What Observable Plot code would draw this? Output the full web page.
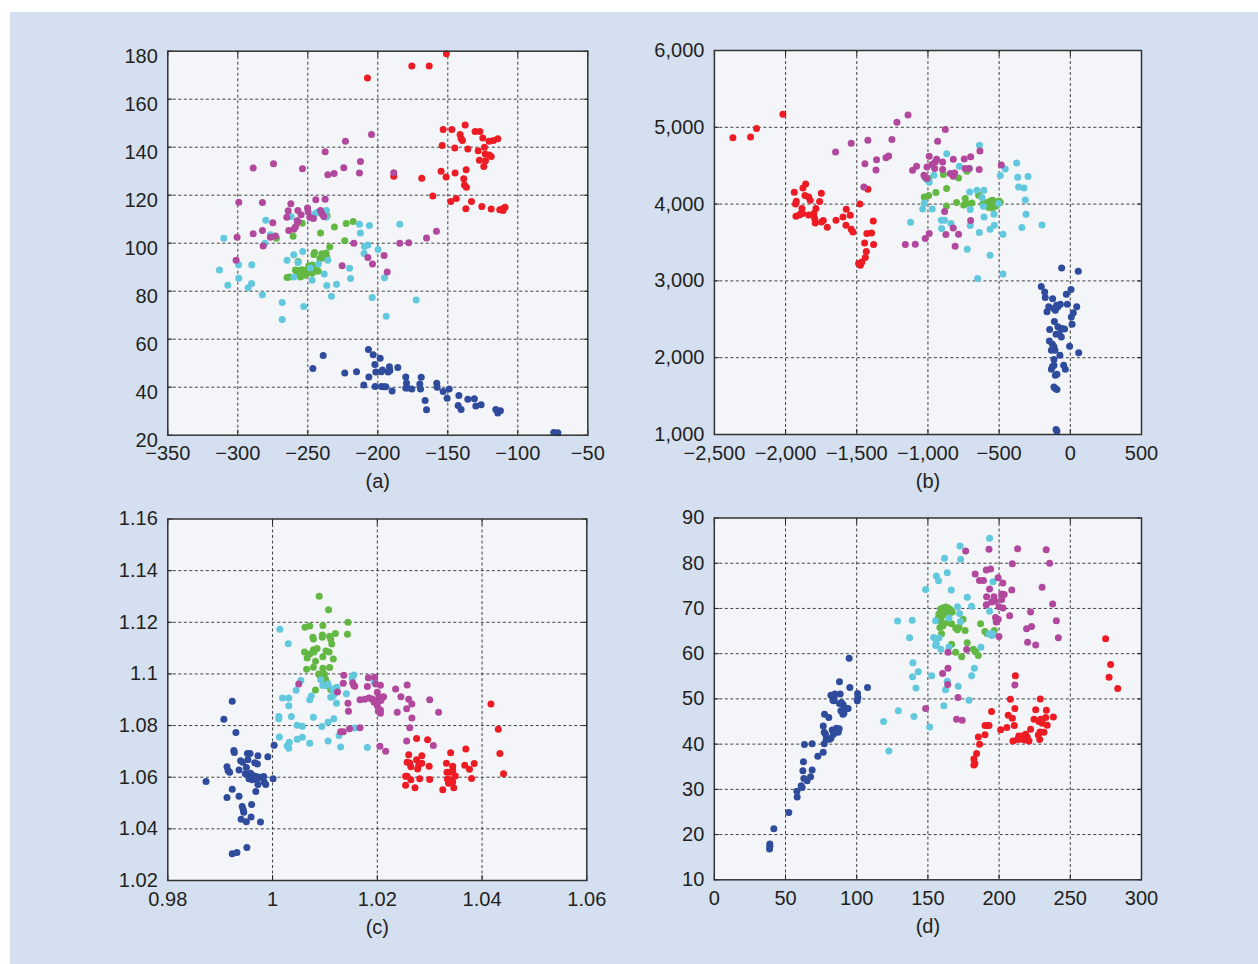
<!DOCTYPE html>
<html><head><meta charset="utf-8">
<script src="https://cdn.jsdelivr.net/npm/d3@7"></script>
<script src="https://cdn.jsdelivr.net/npm/@observablehq/plot@0.6"></script>
<style>
html,body{margin:0;padding:0;background:#fff;}
#bg{position:absolute;left:10px;top:12px;width:1248px;height:952px;background:#d4e0f0;}
.panel{position:absolute;}
</style></head><body>
<div id="bg"></div>
<div id="pa" class="panel"></div>
<div id="pb" class="panel"></div>
<div id="pc" class="panel"></div>
<div id="pd" class="panel"></div>
<script>
// ---------- tick labels ----------
const aXTicks = [-350,-300,-250,-200,-150,-100,-50];
const aYTicks = [20,40,60,80,100,120,140,160,180];
const bXTicks = [-2500,-2000,-1500,-1000,-500,0,500];
const bYTicks = [1000,2000,3000,4000,5000,6000];
const cXTicks = [0.98,1,1.02,1.04,1.06];
const cYTicks = [1.02,1.04,1.06,1.08,1.1,1.12,1.14,1.16];
const dXTicks = [0,50,100,150,200,250,300];
const dYTicks = [10,20,30,40,50,60,70,80,90];
const captions = ["(a)","(b)","(c)","(d)"];

// ---------- panel (a) ----------
const aRed = [[-151,178.9],[-175.7,173.8],[-163.3,173.8],[-207.4,168.8],
[-153.3,147.4],[-147.1,147.4],[-137.6,149.2],[-141.2,145.3],[-140.5,143.6],[-139.5,142.8],
[-130.5,146.5],[-127.1,146.5],[-125,143.8],[-120.5,142.5],[-117.4,142.8],[-114.3,143.5],
[-154,140.7],[-145,139.7],[-135.7,139.3],[-128.3,138.5],[-123.8,140],
[-123.3,137.2],[-120.5,136.7],[-119,136.1],[-127.4,134.6],[-123.1,134.4],[-124.3,132],
[-188.6,127.9],[-168.6,127.1],[-154.8,130],[-151.2,127.6],[-144.8,129.2],[-136.9,130.6],[-138.6,126.9],[-138.1,124.3],[-136.7,123.3],
[-160.7,119.7],[-144,118.6],[-147.9,117.4],[-133.1,117.4],[-137.1,114.4],[-125.7,115.3],[-119,114.2],[-112.9,113.9],[-111,114.2],[-109.1,115],[-110.5,113.6]];
const aMagenta = [[-204.5,145.3],[-223.1,142.5],[-237.6,138.1],[-289,131.3],[-274.5,133.1],[-253.8,131],[-224.3,131.4],[-212.4,134],[-235.7,128.5],[-231.2,129],[-213.1,129.2],[-188.6,129.4],
[-299.3,117.1],[-282.4,117],[-262.1,116.4],[-244.3,118.1],[-237.6,118.3],[-264,113.5],[-257.1,113.6],[-250.2,114.7],[-249.8,113.1],[-265,110.8],[-254.8,111.9],[-248.6,110.8],[-246,110.3],[-240.9,113.6],[-239.8,112.2],[-238.6,111.1],[-275,108.5],[-257.6,109.4],[-257,108.8],[-263.6,105.3],[-260,105.8],[-258.8,106.9],[-289,103.9],[-282.4,105.3],[-300.5,102.5],[-276.7,102.5],[-273.1,103],[-165.2,102.2],[-158.1,105],
[-281.9,98.8],[-217.1,100],[-184.3,100],[-177.9,100.2],[-301.2,92.9],[-207.1,94],[-203.8,91.3],[-195.5,94.9],[-225.5,90.6],[-193.3,88]];
const aCyan = [[-236.7,113.6],[-243.3,112.9],[-245,112.2],[-236.9,110.8],[-261.9,111.1],[-280,109.6],[-213.1,107.9],[-206,107.4],[-212.4,104.3],[-184.3,107.9],[-310,102.1],[-276.7,103.5],[-280.7,100],[-209.5,98.6],[-207.1,99.2],[-209.8,95.7],[-199.8,97.4],[-313.1,88.8],[-307.1,82.5],[-299.5,91],[-299.3,85.4],[-290,91],[-290.2,83.2],[-292.6,81.4],[-282.4,78.5],[-264.8,92.9],[-260,95.2],[-253.6,96.5],[-256.9,92],[-248.1,89.7],[-260,85.9],[-246.9,84.6],[-242.4,91.3],[-235.7,92.9],[-238.3,87.2],[-236.4,82.4],[-229.5,82.9],[-233.1,77.9],[-220.2,89.6],[-219.5,85.3],[-204,77.4],[-195.2,85.6],[-194,69.6],[-172.6,76.3],[-268.3,75.3],[-252.9,73.6],[-268.3,68.2]];
const aGreen = [[-254,108.3],[-236.2,111.3],[-240.9,104.3],[-260.5,102.9],[-231,106.7],[-222.6,108.2],[-217.6,109],[-272.4,102.1],[-223.6,101],[-234.3,98.5],
[-245.2,96.1],[-245.7,95.3],[-240,95.6],[-236.9,95.9],[-241.4,93.6],[-239,93.8],[-236.4,94.2],[-256.9,92.4],
[-258.8,88.8],[-256.4,88.6],[-254,88.9],[-250.5,88.9],[-249.3,90.6],[-246.9,90.9],[-244.5,89.3],[-242.6,88.4],[-264.8,85.7],[-255.2,85.9],[-251.7,86.6],[-249.3,87.9],[-246.9,87.5],[-243.3,88.4],[-252.9,87.5],[-257.6,87.2],[-262.9,85.9]];
const aBlue = [[-206.7,55.7],[-203.3,53.5],[-198.3,52.1],[-239,53.2],[-246.4,47.8],[-223.6,45.9],[-215.2,46.4],[-202.1,49.5],[-201.4,46.3],[-197.6,46.4],[-196.7,47.2],[-192.6,46.3],[-191.7,48.5],[-191.4,47],[-185.7,48.2],[-206.4,44.2],[-210,40.9],[-201.9,40.3],[-197.4,40.3],[-195.7,40.2],[-194.3,40.2],[-189.8,38.4],[-180,44.3],[-179.5,41.7],[-179,39.7],[-180,39.7],[-175.7,39.3],[-170,41.3],[-169,44.1],[-169.5,39.3],[-166.2,34.5],[-165.2,30.6],[-157.9,41.6],[-157.6,40],[-153.3,38.2],[-150.5,35.4],[-149,39.2],[-142.1,36.5],[-142.6,32.4],[-140.5,30.7],[-135.7,35],[-131,35.2],[-130,32.2],[-126.2,32.7],[-115.7,30.7],[-114.3,29.2],[-112.4,30.2],[-74.3,21.1],[-71.4,21]];

// ---------- panel (b) ----------
const bRed = [[-2370,4865],[-2246,4874],[-2204,4983],[-2019,5169],
[-1859,4263],[-1878,4210],[-1939,4154],[-1864,4111],[-1838,4093],[-1827,4050],[-1925,4037],[-1930,4002],[-1749,4141],[-1761,4033],[-1885,3942],[-1892,3876],[-1927,3842],[-1904,3859],[-1881,3876],[-1838,3859],[-1801,3876],[-1796,3811],[-1792,3755],[-1787,3942],[-1749,3768],[-1735,3785],[-1707,3699],[-1646,3790],[-1597,3833],[-1574,3933],[-1546,3855],[-1576,3725],[-1539,3673],[-1527,3638],[-1478,4002],[-1422,4193],[-1384,3781],[-1429,3616],[-1396,3625],[-1445,3495],[-1382,3473],[-1433,3382],[-1440,3304],[-1464,3247],[-1487,3226],[-1475,3204]];
const bMagenta = [[-1140,5160],[-1218,5065],[-878,4970],[-932,4818],[-1539,4792],[-1422,4831],[-1253,4840],[-1649,4679],[-1361,4579],[-1295,4605],[-1276,4627],[-1443,4527],[-1365,4445],[-1450,4223],[-991,4623],[-939,4584],[-897,4549],[-822,4584],[-745,4588],[-700,4618],[-635,4692],[-1108,4440],[-1080,4492],[-1007,4484],[-972,4514],[-953,4462],[-949,4549],[-897,4449],[-1028,4375],[-1019,4354],[-1007,4332],[-843,4397],[-813,4406],[-822,4362],[-739,4462],[-710,4462],[-640,4449],[-485,4510],[-883,3903],[-700,3785],[-822,3690],[-785,3608],[-874,3603],[-991,3616],[-1019,3551],[-1159,3473],[-1089,3477],[-809,3451]];
const bCyan = [[-868,4657],[-638,4766],[-779,4492],[-709,4462],[-377,4536],[-457,4458],[-492,4371],[-370,4349],[-297,4358],[-363,4223],[-325,4210],[-316,4054],[-311,3868],[-199,3729],[-340,3694],[-473,3608],[-564,3673],[-534,3725],[-639,3629],[-703,3720],[-703,3929],[-707,4158],[-656,4180],[-607,4180],[-620,4085],[-611,3972],[-606,3833],[-536,3868],[-503,4007],[-1037,3937],[-1026,4015],[-970,3937],[-1122,3764],[-906,3790],[-883,3790],[-838,3746],[-904,3681],[-1019,4345],[-991,4284],[-1007,4319],[-958,4375],[-724,3412],[-564,3334],[-651,3030],[-473,3091]];
const bGreen = [[-892,4384],[-785,4341],[-726,4427],[-995,4332],[-869,4202],[-944,4150],[-1026,4093],[-995,4111],[-870,3976],[-799,4020],[-738,4072],[-728,4007],[-749,3989],[-691,4015],[-644,4115],
[-585,4020],[-570,3990],[-560,4040],[-550,4000],[-540,3960],[-530,4020],[-520,3980],[-510,4010],[-500,4040],[-492,4020],[-555,3950],[-575,3960],[-545,4050],[-600,3990],[-615,4000]];
const bBlue = [[-61,3169],[56,3126],[-204,2926],[-180,2857],[-176,2783],[-124,2766],[-28,2826],[5,2887],[-21,2696],[45,2662],[-152,2662],[-164,2597],[-117,2640],[-105,2618],[-87,2662],[-70,2696],[-96,2683],[7,2531],[21,2584],[12,2436],[-112,2471],[-145,2367],[-87,2402],[-59,2380],[-40,2375],[-77,2315],[-63,2271],[-100,2306],[-147,2219],[-126,2176],[-115,2141],[-133,2098],[-108,2098],[-5,2150],[59,2063],[-73,2033],[-115,1976],[-126,1881],[-115,1902],[-133,1850],[-47,1902],[-35,1850],[-105,1772],[-94,1785],[-115,1620],[-105,1599],[-94,1586],[-100,1065],[-94,1044]];

// ---------- panel (c) ----------
const cGreen = [[1.0089,1.1301],[1.0107,1.1249],[1.0144,1.12],[1.0062,1.1181],[1.0071,1.1186],[1.0096,1.1188],[1.0143,1.1154],[1.012,1.1157],[1.0077,1.1142],[1.0078,1.1135],[1.0095,1.1151],[1.0095,1.1142],[1.0109,1.1146],[1.0111,1.1134],[1.0113,1.1116],[1.0061,1.1085],[1.0078,1.1094],[1.0085,1.1098],[1.0079,1.1085],[1.0071,1.1077],[1.0066,1.1062],[1.0102,1.1089],[1.0108,1.1085],[1.0096,1.1067],[1.0116,1.1058],[1.0082,1.1049],[1.0078,1.1026],[1.0065,1.1018],[1.0096,1.1022],[1.0109,1.1025],[1.0088,1.1],[1.009,1.0996],[1.0099,1.1],[1.0101,1.098],[1.0103,1.0968],[1.0105,1.0955],[1.0082,1.0938],[1.0111,1.094]];
const cCyan = [[1.0014,1.1173],[1.003,1.1117],[1.0054,1.0975],[1.0045,1.0937],[1.0019,1.0907],[1.0031,1.0907],[1.0031,1.0877],[1.0074,1.0915],[1.0071,1.09],[1.0092,1.0977],[1.0096,1.0955],[1.0102,1.0956],[1.0106,1.0961],[1.0115,1.0942],[1.012,1.0945],[1.0123,1.0948],[1.0111,1.091],[1.0114,1.0912],[1.0117,1.092],[1.0122,1.0886],[1.0141,1.0923],[1.0155,1.0996],[1.0152,1.0985],[1.0194,1.0968],[1.0012,1.0835],[1.0012,1.0826],[1.0036,1.0835],[1.0078,1.0832],[1.0117,1.0826],[1.0047,1.0801],[1.0057,1.0797],[1.0094,1.0796],[1.0106,1.0813],[1.0013,1.0756],[1.0032,1.0735],[1.0028,1.0722],[1.0031,1.0712],[1.0047,1.0747],[1.0057,1.0755],[1.0071,1.0732],[1.0106,1.074],[1.013,1.0717],[1.0127,1.0762],[1.0157,1.0791],[1.0181,1.0715]];
const cMagenta = [[1.0136,1.0995],[1.0135,1.0964],[1.0153,1.0966],[1.0155,1.0955],[1.0157,1.0952],[1.0124,1.093],[1.005,1.0961],[1.0183,1.0985],[1.0195,1.0987],[1.0181,1.0951],[1.0197,1.0961],[1.0206,1.0956],[1.02,1.0929],[1.0167,1.09],[1.0176,1.0902],[1.0184,1.0907],[1.019,1.0903],[1.0194,1.089],[1.0197,1.0894],[1.0203,1.0912],[1.0212,1.0912],[1.0207,1.0897],[1.02,1.0877],[1.0206,1.086],[1.0202,1.0855],[1.0206,1.0848],[1.0235,1.0942],[1.0257,1.0957],[1.0245,1.0912],[1.026,1.0902],[1.0266,1.0884],[1.0256,1.0865],[1.0238,1.0852],[1.03,1.09],[1.0317,1.0852],[1.0144,1.0886],[1.0145,1.0855],[1.0266,1.0829],[1.0262,1.0792],[1.0256,1.074],[1.0307,1.0723],[1.0205,1.072],[1.0216,1.0701],[1.013,1.0776],[1.0135,1.0776],[1.0147,1.0788],[1.0167,1.0792]];
const cRed = [[1.0417,1.0884],[1.0431,1.0786],[1.0434,1.0692],[1.0441,1.0613],[1.0275,1.075],[1.0296,1.0745],[1.026,1.0687],[1.0257,1.0658],[1.0262,1.0655],[1.0264,1.0641],[1.0277,1.0632],[1.0275,1.0668],[1.0285,1.0683],[1.0285,1.0654],[1.0279,1.0647],[1.0299,1.0642],[1.0254,1.0604],[1.0257,1.0604],[1.0264,1.059],[1.0281,1.0594],[1.03,1.0591],[1.0254,1.0569],[1.0272,1.0559],[1.034,1.0695],[1.0369,1.0709],[1.0367,1.0646],[1.0385,1.0653],[1.0376,1.0631],[1.038,1.0595],[1.0332,1.0654],[1.0344,1.0642],[1.0333,1.0619],[1.0339,1.0619],[1.0344,1.0626],[1.0349,1.0605],[1.0334,1.0592],[1.0341,1.059],[1.0336,1.0577],[1.0344,1.0582],[1.0346,1.0559],[1.0325,1.0551]];
const cBlue = [[0.9923,1.0894],[0.9907,1.0824],[0.993,1.0773],[1.0003,1.0724],[0.9926,1.0703],[0.9927,1.0696],[0.9952,1.0692],[0.9957,1.0692],[0.9972,1.0683],[0.9991,1.0679],[0.9939,1.0664],[0.9943,1.0658],[0.9953,1.0668],[0.9966,1.0656],[0.9971,1.0651],[0.9913,1.0641],[0.9915,1.0626],[0.9918,1.0619],[0.9936,1.0628],[0.995,1.0638],[0.9948,1.0613],[0.9958,1.0615],[0.9963,1.0606],[0.9969,1.0603],[0.9976,1.06],[0.9983,1.0603],[0.9955,1.0594],[0.9961,1.059],[0.997,1.0592],[0.9984,1.0581],[0.9987,1.0572],[1.0001,1.0594],[0.9873,1.0583],[0.9923,1.0553],[0.9972,1.0572],[0.9968,1.0545],[0.9913,1.0521],[0.9936,1.0526],[0.9942,1.0487],[0.9944,1.0474],[0.9945,1.0464],[0.996,1.0494],[0.994,1.0437],[0.995,1.0428],[0.9959,1.0446],[0.9977,1.0427],[0.9923,1.0304],[0.9932,1.0308],[0.9951,1.0328]];

// ---------- panel (d) ----------
const dBlue = [[39,17.9],[39,17.4],[38.8,16.8],[41.8,21.3],[52.3,24.9],[58,29.6],[58.2,28.3],[61,30.8],[61.7,30.4],[62.9,32.4],[65.2,31.9],[67.6,32.8],[62.2,34.1],[68.7,34.3],[62.6,36.1],[72.7,37.3],[76.5,38.2],[63.3,39.9],[68.7,40.1],[77.2,40.1],[78.6,41.1],[80.9,41.1],[81.9,41.3],[78.1,42.2],[77.2,42.6],[83.7,42.2],[85.8,43.5],[82.8,43.1],[87,42.6],[87.7,43.4],[76.5,44],[77.4,46.6],[80.4,45.9],[84,49.6],[87.9,49],[88.9,47.4],[90.3,46.6],[93.1,47.9],[100.4,49.6],[94.7,59],[87.9,53.8],[95.2,52.5],[107.6,52.5],[100.6,51.2],[100.8,50.3],[81.9,50.8],[84.7,51.1],[88.4,51.1],[83.3,49.7],[84,50.3],[89.3,49.2],[90.5,48.7],[94,47.9],[89.8,47.4],[91,46.8]];
const dCyan = [[193.3,85.5],[172.5,83.8],[173,80.9],[161.7,81.1],[163.6,77.9],[155.9,77.2],[157.5,76.1],[195.7,75.9],[148.4,74.2],[166.4,74.1],[177.6,72.5],[180.7,70.5],[170.8,70.4],[172.2,68.9],[172.9,67.1],[193.3,69.4],[164.8,67.9],[155.4,67.3],[128.7,67.2],[139,67.4],[137.1,63.5],[154,63.6],[157.8,63.5],[155.9,62.3],[155.4,61.8],[159.1,61],[164.8,61.5],[192.9,64.4],[194.8,64],[195.7,64.4],[187.2,61.4],[139.5,58],[143.2,56],[139.2,54.9],[141.6,52.4],[152.6,55.1],[182.6,56.8],[180.7,55.1],[163.6,53.9],[162.4,52],[171.3,52.8],[178.8,49.7],[161.2,48.5],[129.2,47.4],[140.2,46.1],[118.9,45],[151.2,43.8],[122.6,38.5]];
const dMagenta = [[176.5,82.7],[192.9,83.1],[213,83.2],[233.1,83],[209.3,79.9],[235.5,80],[183.2,77.6],[191,78.5],[194,78.7],[186.2,76.2],[189,76.2],[199.3,76.8],[202.6,75.6],[208.9,74.1],[230.2,74.7],[193.3,74.3],
[191.2,72.6],[196.4,72.6],[201.8,73.2],[203.6,73.1],[201.8,72],[194.7,71.4],[191,70.8],[197.1,71.6],[199.9,70.4],[202.7,70.1],
[197.5,68],[199.4,67.6],[198,67],[207.4,68.4],[222.1,69.2],[237.6,71],[240.2,67.3],[222.8,66],[219.3,65.5],[199.9,63.8],[241.6,63.5],[220,62.5],[225.7,61.9],[177.2,60.9],[164.1,60.3],[164.1,56.8],[160.3,55.6],[163.9,53.2],[211.1,53.1],[171.1,50.3],[148.4,47.9],[170.1,45.5],[174.1,45.3]];
const dGreen = [[158.9,69.9],[160.5,70.1],[162.4,70.3],[164.3,70.1],[165.9,69.7],[167.1,69.2],[157.7,68.8],[160.1,68.4],[161.5,69.5],[162.9,68.9],[164.8,68.6],[157.3,67.9],[158.9,67.3],[163.6,66.9],[166.6,66.6],[160.5,66.1],[158.4,65.8],
[169.5,65.7],[170.7,65.3],[171.9,65.9],[174.7,67.6],[176.1,65.1],[159.6,64.4],[166.6,62.1],[177.6,62.4],[169.5,60.3],[173.7,59.3],[181.9,61],[183.5,60.4],[185.4,59.6],[187,66.6],[190,64.9],[191.7,64.4],[196.6,65.1]];
const dRed = [[274.8,63.3],[278.3,57.6],[277.2,54.8],[283.3,52.3],[211.4,55.1],[207.9,49.9],[228.9,50],[211.1,47.9],[225.7,47.6],[233.2,47.5],[194.7,47.2],[206.4,46.4],[209.3,45.7],[224.5,45.5],[229.2,45.5],[232.7,45.9],[238.1,46],[228,45],[230.3,44.6],[233.8,44.2],[190.1,44.1],[192,44.1],[192.9,44.1],[210.7,44.1],[205.5,43.7],[201.1,43.2],[222.1,43.3],[228.7,42.7],[231.5,42.6],[227.5,42],[228.5,41],[190.1,42.1],[185.4,41.6],[213.9,41.8],[216.3,41.8],[218.6,42.2],[219.8,41.5],[218.2,40.9],[215.1,41.1],[221,40.7],[209.7,40.7],[212.8,41],[186.3,40],[184.2,37.9],[182.3,36.7],[183,35.7],[182.3,35.4]];

// ---------- styling ----------
const COLORS = {blue:"#2f4b9c", red:"#ed1c24", green:"#63b843", cyan:"#62c8dd", magenta:"#b1489d"};
const FONT = "'Liberation Sans', Arial, Helvetica, sans-serif";
const TEXT = "#231f20";

function makePanel(el, {series, xTicks, yTicks, xFmt, yFmt, caption, box, ydy = 0}) {
  const {left, top, width, height, L, T, R, B} = box;
  const container = document.getElementById(el);
  container.style.left = left + "px";
  container.style.top = top + "px";
  const grid = {stroke: "#222", strokeOpacity: 0.85, strokeDasharray: "3,2.5", strokeWidth: 1};
  const marks = [
    Plot.frame({fill: "#f4f5f8", stroke: null}),
    Plot.gridX(xTicks.slice(1, -1), grid),
    Plot.gridY(yTicks.slice(1, -1), grid),
    Plot.axisX(xTicks, {anchor: "bottom", tickSize: -5, tickFormat: () => "", label: null, stroke: "#222"}),
    Plot.axisX(xTicks, {anchor: "top", tickSize: -5, tickFormat: () => "", label: null, stroke: "#222"}),
    Plot.axisY(yTicks, {anchor: "left", tickSize: -5, tickFormat: () => "", label: null, stroke: "#222"}),
    Plot.axisY(yTicks, {anchor: "right", tickSize: -5, tickFormat: () => "", label: null, stroke: "#222"}),
    Plot.axisX(xTicks, {anchor: "bottom", tickSize: 0, tickPadding: 11, tickFormat: xFmt, fontSize: 20, fill: TEXT,
      label: caption, labelAnchor: "center", labelArrow: "none", labelOffset: 53}),
    Plot.axisY(yTicks, {anchor: "left", tickSize: 0, tickPadding: 10, tickFormat: yFmt, fontSize: 20, fill: TEXT, dy: ydy, label: null})
  ];
  for (const [data, c] of series) {
    marks.push(Plot.dot(data, {x: d => d[0], y: d => d[1], r: 3.5, fill: COLORS[c], stroke: null}));
  }
  marks.push(Plot.frame({stroke: "#333", strokeWidth: 1.5}));
  const chart = Plot.plot({
    width, height,
    marginLeft: L - left, marginRight: left + width - R,
    marginTop: T - top, marginBottom: top + height - B,
    style: {background: "transparent", overflow: "visible", fontFamily: FONT, fontSize: "20px", color: TEXT, maxWidth: "none"},
    x: {domain: [xTicks[0], xTicks[xTicks.length - 1]]},
    y: {domain: [yTicks[0], yTicks[yTicks.length - 1]]},
    marks
  });
  container.appendChild(chart);
}

const fmtPlain = d3.format("");
const fmtComma = d3.format(",");
const fmtStr = d => String(d);

makePanel("pa", {
  series: [[aBlue,"blue"],[aRed,"red"],[aGreen,"green"],[aCyan,"cyan"],[aMagenta,"magenta"]],
  xTicks: aXTicks, yTicks: aYTicks, xFmt: fmtPlain, yFmt: fmtPlain, caption: captions[0], ydy: 5,
  box: {left: 60, top: 30, width: 560, height: 480, L: 167.3, T: 50.7, R: 587.3, B: 434.7}
});
makePanel("pb", {
  series: [[bBlue,"blue"],[bRed,"red"],[bGreen,"green"],[bCyan,"cyan"],[bMagenta,"magenta"]],
  xTicks: bXTicks, yTicks: bYTicks, xFmt: fmtComma, yFmt: fmtComma, caption: captions[1],
  box: {left: 610, top: 30, width: 560, height: 480, L: 713.9, T: 50, R: 1141, B: 434}
});
makePanel("pc", {
  series: [[cBlue,"blue"],[cRed,"red"],[cGreen,"green"],[cCyan,"cyan"],[cMagenta,"magenta"]],
  xTicks: cXTicks, yTicks: cYTicks, xFmt: fmtStr, yFmt: fmtStr, caption: captions[2],
  box: {left: 60, top: 500, width: 560, height: 460, L: 167.3, T: 518.5, R: 586.3, B: 880}
});
makePanel("pd", {
  series: [[dBlue,"blue"],[dRed,"red"],[dGreen,"green"],[dCyan,"cyan"],[dMagenta,"magenta"]],
  xTicks: dXTicks, yTicks: dYTicks, xFmt: fmtStr, yFmt: fmtStr, caption: captions[3],
  box: {left: 610, top: 500, width: 560, height: 460, L: 713.8, T: 517.5, R: 1141, B: 879.3}
});
</script>
</body></html>
